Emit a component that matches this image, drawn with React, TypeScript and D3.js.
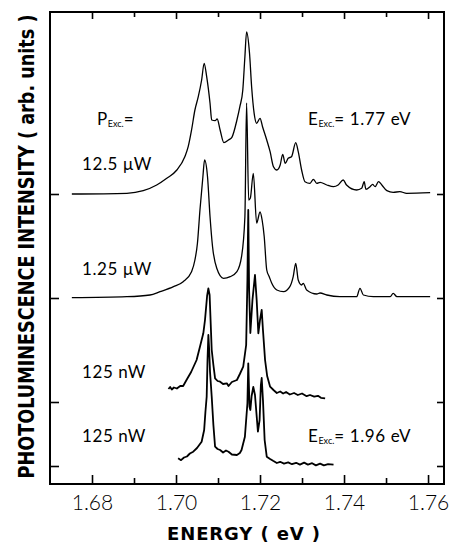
import React, { useEffect, useRef } from "react";
import * as d3 from "d3";

// energy axis (eV)
const energyTicks = [1.68, 1.7, 1.72, 1.74, 1.76];
const energyMinor = [1.69, 1.71, 1.73, 1.75];
const energyDomain = [1.67, 1.7638];

// vertical offset of each trace (arb. units) and its label
const traceOffsets = [290, 186, 82, 18];
const powerLabels = ["12.5 μW", "1.25 μW", "125 nW", "125 nW"];

// [energy eV, intensity arb.]
const pl12_5uW: [number, number][] = [
  [1.6752, 0], [1.6883, 0.7], [1.6922, 3.3], [1.6954, 9], [1.6978, 15.7], [1.7002, 24],
  [1.7021, 37.3], [1.7029, 47.3], [1.7037, 64], [1.7045, 84], [1.7053, 97.3], [1.7061, 114],
  [1.7067, 130.7], [1.7073, 117.3], [1.7081, 90.7], [1.7085, 74], [1.7093, 73.3], [1.7098, 75],
  [1.7105, 64], [1.7114, 51.3], [1.7125, 54], [1.7133, 56.7], [1.7145, 74], [1.7152, 87.3],
  [1.7159, 104], [1.7164, 137.3], [1.7168, 162], [1.7175, 140.7], [1.718, 107.3], [1.7186, 80.7],
  [1.7192, 70.7], [1.72, 75.7], [1.7206, 67.3], [1.7216, 54], [1.7224, 42.3], [1.7232, 27.3],
  [1.724, 24], [1.7248, 29], [1.7254, 39.7], [1.726, 30.7], [1.7267, 35.7], [1.7275, 37.3],
  [1.7285, 51.3], [1.7291, 42.3], [1.7299, 24], [1.7307, 12.3], [1.7319, 10.7], [1.7327, 14.7],
  [1.7335, 10.7], [1.7343, 11.7], [1.7359, 9], [1.7375, 7.3], [1.7386, 9], [1.7398, 14],
  [1.7406, 9], [1.743, 4], [1.7442, 5.7], [1.7448, 12.3], [1.7452, 4.7], [1.7462, 7.3],
  [1.7468, 9.7], [1.7474, 7.3], [1.7482, 12.3], [1.749, 9], [1.7502, 3.3], [1.7517, 1.7],
  [1.7533, 2.3], [1.7549, 0.7], [1.7605, 1.3],
];

const pl1_25uW: [number, number][] = [
  [1.6752, 0.3], [1.6883, 1.3], [1.6938, 3], [1.6962, 6.3], [1.6994, 11.3], [1.7017, 16.3],
  [1.7037, 26.3], [1.7045, 38], [1.7051, 54.7], [1.7057, 88], [1.7064, 121.3], [1.7068, 138],
  [1.7075, 121.3], [1.7081, 81.3], [1.7087, 51.3], [1.7097, 29.7], [1.7113, 19.7], [1.7129, 21.3],
  [1.7145, 26.3], [1.7156, 41.3], [1.7164, 81.3], [1.7168, 195], [1.7173, 98], [1.7177, 100],
  [1.7184, 124.7], [1.7192, 75], [1.72, 86], [1.7205, 78], [1.721, 61.3], [1.7216, 28],
  [1.7222, 21.3], [1.7228, 14.7], [1.724, 8], [1.7256, 6.3], [1.7271, 11.3], [1.7279, 21.3],
  [1.7285, 34.7], [1.7291, 18], [1.7299, 13], [1.7303, 14.7], [1.7311, 8], [1.7335, 4],
  [1.7343, 5], [1.7359, 3], [1.739, 1.3], [1.743, 1.3], [1.7438, 9.7], [1.7446, 3],
  [1.747, 1.3], [1.751, 1.3], [1.7517, 4.7], [1.7526, 1.3], [1.7605, 1.3],
];

const pl125nW_a: [number, number][] = [
  [1.6982, 13], [1.6986, 15], [1.699, 12.5], [1.6995, 14.5], [1.7002, 13.5], [1.701, 16],
  [1.7017, 16], [1.7025, 22], [1.7036, 30], [1.7049, 42], [1.7057, 55.3], [1.7065, 68.7],
  [1.7069, 82], [1.7074, 106], [1.7077, 113.7], [1.708, 107], [1.7085, 52], [1.7089, 37],
  [1.7093, 23.7], [1.7099, 21], [1.7105, 20.3], [1.7112, 18], [1.7121, 18.7], [1.7125, 16],
  [1.7133, 20], [1.7145, 22], [1.7152, 28], [1.716, 35.3], [1.7167, 57], [1.717, 122],
  [1.7172, 192], [1.7174, 112], [1.7177, 69], [1.7182, 102], [1.7188, 127], [1.7192, 102],
  [1.7196, 68.7], [1.72, 82], [1.7204, 92], [1.7207, 72], [1.7212, 42], [1.7217, 26],
  [1.7224, 15.3], [1.7232, 12], [1.724, 9], [1.7248, 10.5], [1.7255, 8.5], [1.7262, 10],
  [1.7271, 7.5], [1.7281, 9], [1.729, 7], [1.73, 8.5], [1.7311, 5.8], [1.7319, 7],
  [1.7329, 5.3], [1.7338, 6.2], [1.7345, 4.2], [1.7355, 3.7],
];

const pl125nW_b: [number, number][] = [
  [1.7005, 7.7], [1.7012, 5.8], [1.7019, 8.5], [1.7026, 9.5], [1.7033, 12.5], [1.7041, 14.3],
  [1.705, 18], [1.7061, 24.3], [1.7067, 36], [1.707, 54], [1.7073, 69.3], [1.7075, 106],
  [1.7077, 131], [1.7079, 116], [1.7081, 94], [1.7085, 69.3], [1.7089, 41], [1.7093, 19.3],
  [1.7099, 17], [1.7105, 16], [1.7112, 13.5], [1.7119, 15.5], [1.7125, 14.3], [1.7133, 11.5],
  [1.7145, 11], [1.7152, 13], [1.7156, 16], [1.7164, 29.3], [1.717, 62.7], [1.7172, 102.7],
  [1.7175, 59.3], [1.7177, 56], [1.718, 70], [1.7184, 79], [1.7188, 71], [1.7195, 34.3],
  [1.7199, 46], [1.7202, 81], [1.7204, 88], [1.7207, 66], [1.7211, 26], [1.7216, 9.3],
  [1.7224, 7], [1.7231, 5.2], [1.724, 3], [1.7248, 4.2], [1.7257, 2.4], [1.7267, 3.6],
  [1.7276, 1.8], [1.7286, 3.2], [1.7295, 1.4], [1.7305, 3.4], [1.7314, 1.4], [1.7324, 2.8],
  [1.7333, 0.6], [1.7343, 2.4], [1.7352, 0.6], [1.7362, 1.8], [1.7375, 1.3],
];

const traces = [pl12_5uW, pl1_25uW, pl125nW_a, pl125nW_b];
const traceWidths = [1.3, 1.3, 1.8, 1.8];

const W = 451;
const H = 544;
const left = 50, right = 444, top = 12, bottom = 484;

export default function App() {
  const ref = useRef<SVGSVGElement>(null);

  useEffect(() => {
    const svg = d3.select(ref.current);
    svg.selectAll("*").remove();

    const x = d3.scaleLinear().domain(energyDomain).range([left, right]);
    const y = d3.scaleLinear().domain([0, bottom - top]).range([bottom, top]);

    // frame
    svg.append("rect")
      .attr("x", left).attr("y", top)
      .attr("width", right - left).attr("height", bottom - top)
      .attr("fill", "none").attr("stroke", "#000").attr("stroke-width", 2);

    const tickStyle = (g: any) => {
      g.select(".domain").remove();
      g.selectAll(".tick line").attr("stroke", "#000").attr("stroke-width", 1.6);
    };

    // bottom axis, labelled
    svg.append("g")
      .attr("transform", `translate(0,${bottom})`)
      .call(d3.axisBottom(x).tickValues(energyTicks).tickSize(-9).tickPadding(11)
        .tickFormat(d3.format(".2f")))
      .call(tickStyle)
      .call((g: any) => g.selectAll("text")
        .attr("font-family", "Lato, 'Open Sans', sans-serif")
        .attr("font-weight", 300)
        .attr("font-size", 21)
        .attr("fill", "#000"));
    svg.append("g")
      .attr("transform", `translate(0,${bottom})`)
      .call(d3.axisBottom(x).tickValues(energyMinor).tickSize(-6).tickFormat(() => ""))
      .call(tickStyle);

    // top axis
    svg.append("g")
      .attr("transform", `translate(0,${top})`)
      .call(d3.axisTop(x).tickValues(energyTicks).tickSize(-7).tickFormat(() => ""))
      .call(tickStyle);
    svg.append("g")
      .attr("transform", `translate(0,${top})`)
      .call(d3.axisTop(x).tickValues(energyMinor).tickSize(-5).tickFormat(() => ""))
      .call(tickStyle);

    // baseline ticks at each trace offset
    svg.append("g")
      .attr("transform", `translate(${left},0)`)
      .call(d3.axisLeft(y).tickValues(traceOffsets).tickSize(-9).tickFormat(() => ""))
      .call(tickStyle);
    svg.append("g")
      .attr("transform", `translate(${right},0)`)
      .call(d3.axisRight(y).tickValues(traceOffsets).tickSize(-7).tickFormat(() => ""))
      .call(tickStyle);

    // spectra: smooth for the high-power traces, jagged for the noisy low-power ones
    traces.forEach((data, i) => {
      const line = d3.line<[number, number]>()
        .x(d => x(d[0]))
        .y(d => y(d[1] + traceOffsets[i]))
        .curve(i < 2 ? d3.curveMonotoneX : d3.curveLinear);
      svg.append("path")
        .datum(data)
        .attr("d", line)
        .attr("fill", "none")
        .attr("stroke", "#000")
        .attr("stroke-width", traceWidths[i])
        .attr("stroke-linejoin", "round");
    });

    const textFont = "Lato, 'Open Sans', sans-serif";

    // power labels
    const labelY = [170, 275, 378, 442];
    powerLabels.forEach((t, i) => {
      svg.append("text")
        .attr("x", 82).attr("y", labelY[i])
        .attr("font-family", textFont).attr("font-size", 17)
        .attr("letter-spacing", 0.6)
        .attr("fill", "#000")
        .text(t);
    });

    const subLabel = (xx: number, yy: number, main: string, rest: string) => {
      const t = svg.append("text")
        .attr("x", xx).attr("y", yy)
        .attr("font-family", textFont).attr("font-size", 17)
        .attr("letter-spacing", 0.6)
        .attr("fill", "#000");
      t.append("tspan").text(main);
      t.append("tspan").attr("font-size", 9).attr("dy", 2).attr("letter-spacing", 0).text("Exc.");
      t.append("tspan").attr("dy", -2).text(rest);
    };
    subLabel(97, 125, "P", "=");
    subLabel(308, 125, "E", "= 1.77 eV");
    subLabel(308, 442, "E", "= 1.96 eV");

    // axis titles
    svg.append("text")
      .attr("x", 243.5).attr("y", 540)
      .attr("text-anchor", "middle")
      .attr("font-family", "'DejaVu Sans', sans-serif")
      .attr("font-weight", "bold").attr("font-size", 18)
      .attr("textLength", 153).attr("lengthAdjust", "spacing")
      .attr("fill", "#000")
      .text("ENERGY  ( eV )");

    // y title: condensed along the text, tall across it
    svg.append("text")
      .attr("transform", "translate(34,246.5) rotate(-90) scale(1,1.4)")
      .attr("text-anchor", "middle")
      .attr("font-family", "'DejaVu Sans', sans-serif")
      .attr("font-weight", "bold").attr("font-size", 15.5)
      .attr("textLength", 464).attr("lengthAdjust", "spacingAndGlyphs")
      .attr("fill", "#000")
      .text("PHOTOLUMINESCENCE  INTENSITY  ( arb.  units )");
  }, []);

  return (
    <svg
      ref={ref}
      width={W}
      height={H}
      style={{ position: "absolute", left: 0, top: 0, background: "#fff" }}
    />
  );
}
